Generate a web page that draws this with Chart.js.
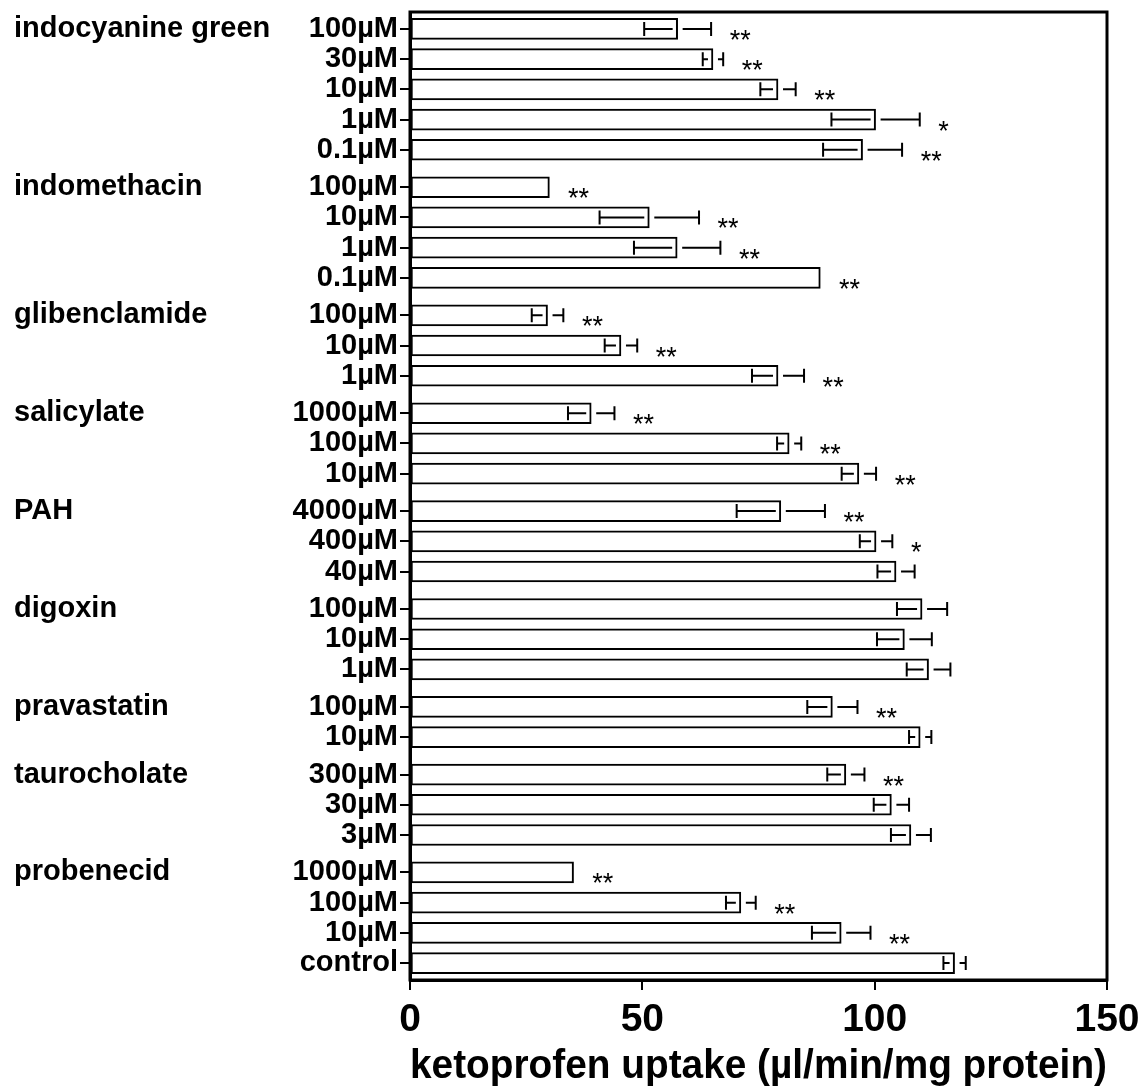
<!DOCTYPE html>
<html>
<head>
<meta charset="utf-8">
<script src="https://cdn.jsdelivr.net/npm/chart.js@4.4.1/dist/chart.umd.min.js"></script>
<style>
html, body { margin: 0; padding: 0; background: #fff; }
#wrap { width: 1142px; height: 1091px; }
</style>
</head>
<body>
<div id="wrap"><canvas id="c" width="1142" height="1091"></canvas></div>
<script>
// inhibitor groups, top to bottom
const groupNames = ['indocyanine green', 'indomethacin', 'glibenclamide', 'salicylate', 'PAH',
                    'digoxin', 'pravastatin', 'taurocholate', 'probenecid'];
const groupSizes = [5, 4, 3, 3, 3, 3, 2, 3, 4];

// one entry per bar, top to bottom
const doseLabels = ['100µM', '30µM', '10µM', '1µM', '0.1µM',
                    '100µM', '10µM', '1µM', '0.1µM',
                    '100µM', '10µM', '1µM',
                    '1000µM', '100µM', '10µM',
                    '4000µM', '400µM', '40µM',
                    '100µM', '10µM', '1µM',
                    '100µM', '10µM',
                    '300µM', '30µM', '3µM',
                    '1000µM', '100µM', '10µM', 'control'];
const uptake = [57.6, 65.2, 79.2, 100.2, 97.4,
                30.0, 51.5, 57.5, 88.3,
                29.6, 45.4, 79.2,
                39.0, 81.6, 96.6,
                79.8, 100.3, 104.6,
                110.2, 106.4, 111.6,
                90.9, 109.8,
                93.8, 103.6, 107.8,
                35.2, 71.2, 92.8, 117.2];
const sem = [7.2, 2.2, 3.8, 9.5, 8.5,
             0, 10.7, 9.3, 0,
             3.4, 3.5, 5.6,
             5.0, 2.6, 3.7,
             9.5, 3.5, 4.0,
             5.4, 5.9, 4.7,
             5.4, 2.4,
             4.0, 3.8, 4.3,
             0, 3.2, 6.3, 2.4];
const signif = ['**', '**', '**', '*', '**',
                '**', '**', '**', '**',
                '**', '**', '**',
                '**', '**', '**',
                '**', '*', '',
                '', '', '',
                '**', '',
                '**', '', '',
                '**', '**', '**', ''];
const xTicks = [0, 50, 100, 150];

const FONT = 'Liberation Sans, Arial, sans-serif';
const GROUP_GAP = 0.24; // extra space between groups, in rows

// row index positions (with small gaps between groups)
const rowPos = [];
const groupFirst = [];
let r = 0;
groupSizes.forEach(function (n, g) {
    groupFirst.push(rowPos.length);
    for (let i = 0; i < n; i++) {
        rowPos.push(r + g * GROUP_GAP);
        r++;
    }
});
const lastPos = rowPos[rowPos.length - 1];

// error bars: left whisker inside the bar, right one outside
const errorBars = {
    id: 'errorBars',
    afterDatasetsDraw: function (chart) {
        const ctx = chart.ctx;
        const xs = chart.scales.x;
        const meta = chart.getDatasetMeta(0);
        ctx.save();
        ctx.strokeStyle = '#000';
        ctx.lineWidth = 2;
        meta.data.forEach(function (bar, i) {
            const e = sem[i];
            if (!e) return;
            const cy = bar.y;
            const xe = bar.x;
            const xl = xs.getPixelForValue(uptake[i] - e);
            const xr = xs.getPixelForValue(uptake[i] + e);
            ctx.beginPath();
            if (xe - 5 > xl) { ctx.moveTo(xl, cy); ctx.lineTo(xe - 5, cy); }
            ctx.moveTo(xl, cy - 7); ctx.lineTo(xl, cy + 7);
            if (xr > xe + 5) { ctx.moveTo(xe + 5, cy); ctx.lineTo(xr, cy); }
            ctx.moveTo(xr, cy - 7); ctx.lineTo(xr, cy + 7);
            ctx.stroke();
        });
        ctx.restore();
    }
};

// stars, group names and the box round the plot
const extras = {
    id: 'extras',
    afterDraw: function (chart) {
        const ctx = chart.ctx;
        const xs = chart.scales.x;
        const ys = chart.scales.y;
        const a = chart.chartArea;
        const meta = chart.getDatasetMeta(0);
        ctx.save();
        ctx.fillStyle = '#000';
        ctx.font = '27px ' + FONT;
        ctx.textAlign = 'left';
        ctx.textBaseline = 'alphabetic';
        meta.data.forEach(function (bar, i) {
            if (!signif[i]) return;
            const x = xs.getPixelForValue(uptake[i] + sem[i] + 4);
            ctx.fillText(signif[i], x, bar.y + 20);
        });

        ctx.font = 'bold 29px ' + FONT;
        ctx.textBaseline = 'middle';
        groupNames.forEach(function (name, g) {
            ctx.fillText(name, 14, ys.getPixelForValue(rowPos[groupFirst[g]]));
        });

        ctx.strokeStyle = '#000';
        ctx.lineWidth = 3;
        ctx.strokeRect(a.left, a.top, a.right - a.left, a.bottom - a.top);
        ctx.restore();
    }
};

const ctx = document.getElementById('c').getContext('2d');
new Chart(ctx, {
    type: 'bar',
    data: {
        datasets: [{
            data: uptake.map(function (v, i) { return { x: v, y: rowPos[i] }; }),
            backgroundColor: '#fff',
            borderColor: '#000',
            borderWidth: 2,
            borderSkipped: false,
            barThickness: 21
        }]
    },
    options: {
        indexAxis: 'y',
        responsive: false,
        animation: false,
        layout: { padding: { left: 0, right: 35, top: 12, bottom: 0 } },
        plugins: { legend: { display: false }, tooltip: { enabled: false } },
        scales: {
            x: {
                type: 'linear',
                min: 0,
                max: 150,
                afterBuildTicks: function (s) { s.ticks = xTicks.map(function (v) { return { value: v }; }); },
                ticks: { color: '#000', font: { family: FONT, size: 39, weight: 'bold' }, padding: 7 },
                grid: { drawOnChartArea: false, drawTicks: true, tickLength: 10, color: '#000', lineWidth: 2 },
                border: { color: '#000', width: 3 },
                title: {
                    display: true,
                    text: 'ketoprofen uptake (µl/min/mg protein)',
                    color: '#000',
                    font: { family: FONT, size: 40, weight: 'bold' },
                    padding: { top: 0, bottom: 0 }
                },
                afterFit: function (s) { s.height = 111; s.paddingLeft = 0; s.paddingRight = 0; }
            },
            y: {
                type: 'linear',
                reverse: true,
                offset: false,
                min: -0.56,
                max: lastPos + 0.56,
                afterBuildTicks: function (s) { s.ticks = rowPos.map(function (v) { return { value: v }; }); },
                ticks: {
                    autoSkip: false,
                    color: '#000',
                    font: { family: FONT, size: 29, weight: 'bold' },
                    padding: 2,
                    callback: function (v, i) { return doseLabels[i]; }
                },
                grid: { offset: false, drawOnChartArea: false, drawTicks: true, tickLength: 10, color: '#000', lineWidth: 2 },
                border: { color: '#000', width: 3 },
                afterFit: function (s) { s.width = 410; s.paddingTop = 0; s.paddingBottom = 0; }
            }
        }
    },
    plugins: [errorBars, extras]
});
</script>
</body>
</html>
